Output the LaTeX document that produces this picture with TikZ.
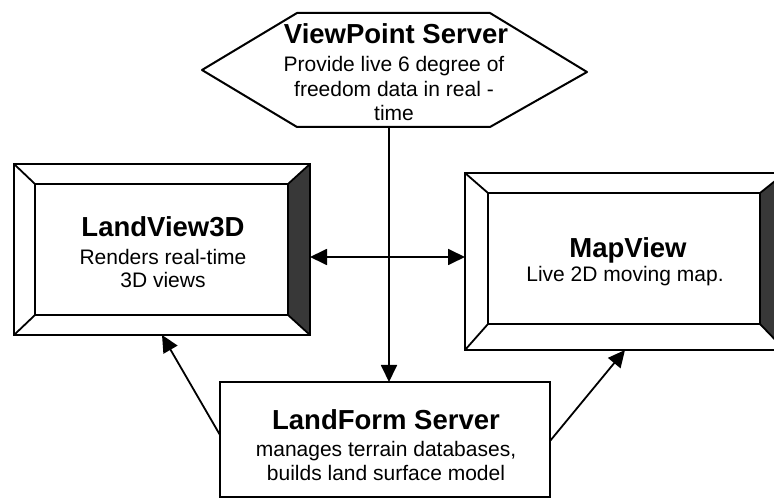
\documentclass[tikz,border=0pt]{standalone}
\usepackage{fontspec}
\setmainfont{Liberation Sans}
\usetikzlibrary{arrows.meta}
\begin{document}
\begin{tikzpicture}[x=1pt,y=-1pt,
  frame/.style={draw, line width=2pt, rectangle, inner sep=0pt, outer sep=0pt},
  ttl/.style={font=\fontsize{27.5}{30}\selectfont\bfseries, anchor=base, inner sep=0pt},
  body/.style={font=\fontsize{21}{24.5}\selectfont, anchor=base, align=center, inner sep=0pt},
  tip/.tip={Triangle[length=17pt,width=16pt]},
  conn/.style={line width=1.8pt, -tip},
  dconn/.style={line width=1.8pt, tip-tip},
  bevel/.style={line width=1.8pt},
  dark/.style={fill=black!78, draw, line width=1.8pt, line join=round}]
\useasboundingbox (0,0) rectangle (774,502);

% ViewPoint Server hexagon
\coordinate (h1) at (202,70);
\coordinate (h2) at (297,13);
\coordinate (h3) at (490,13);
\coordinate (h4) at (587,72);
\coordinate (h5) at (490,127);
\coordinate (h6) at (297,127);
\draw[line width=2pt, line join=round] (h1) -- (h2) -- (h3) -- (h4) -- (h5) -- (h6) -- cycle;
\coordinate (vpb) at (389,127);
\node[ttl] (vpt) at (396,44) {ViewPoint Server};
\node[body] (vpd) at (394,121) {Provide live 6 degree of\\freedom data in real -\\time};

% LandView3D box
\node[frame, minimum width=296pt, minimum height=171pt] (lvo) at (162,249.5) {};
\node[frame, minimum width=253pt, minimum height=131pt] (lv) at (161.5,249.5) {};
\draw[dark] (lv.north east) -- (lvo.north east) -- (lvo.south east) -- (lv.south east) -- cycle;
\draw[bevel] (lvo.north west) -- (lv.north west);
\draw[bevel] (lvo.south west) -- (lv.south west);
\node[ttl] (lvt) at (163,237) {LandView3D};
\node[body, font=\fontsize{21}{23}\selectfont] (lvd) at (163,288) {Renders real-time\\3D views};

% MapView box
\node[frame, minimum width=320pt, minimum height=177pt] (mvo) at (625,261.5) {};
\node[frame, minimum width=272pt, minimum height=131pt] (mv) at (624,258.5) {};
\draw[dark] (mv.north east) -- (mvo.north east) -- (mvo.south east) -- (mv.south east) -- cycle;
\draw[bevel] (mvo.north west) -- (mv.north west);
\draw[bevel] (mvo.south west) -- (mv.south west);
\node[ttl] (mvt) at (628,258) {MapView};
\node[body] (mvd) at (625,282) {Live 2D moving map.};

% LandForm Server box
\node[frame, minimum width=330pt, minimum height=115pt] (lf) at (385,439.5) {};
\node[ttl] (lft) at (386,430) {LandForm Server};
\node[body] (lfd) at (386,481) {manages terrain databases,\\builds land surface model};

% connectors
\coordinate (ar) at (0,257);
\draw[conn] (vpb) -- (vpb |- lf.north);
\draw[dconn] (lvo.east |- ar) -- (mvo.west |- ar);
\draw[conn] (lf.west |- 0,435) -- (lvo.south);
\draw[conn] (lf.east |- 0,441) -- (mvo.south);
\end{tikzpicture}
\end{document}
